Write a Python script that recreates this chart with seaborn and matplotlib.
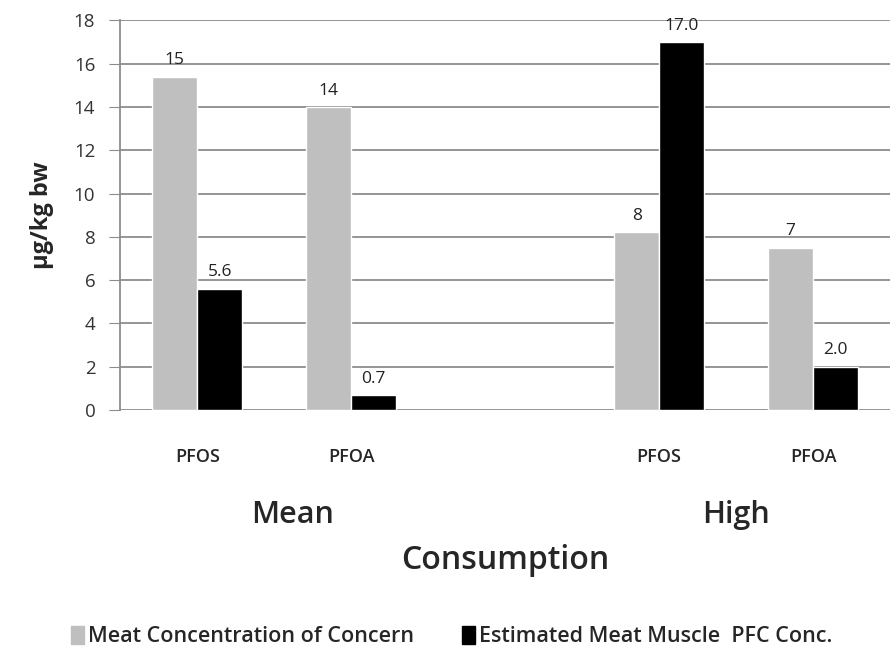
import pandas as pd
import matplotlib.pyplot as plt
import seaborn as sns

# values
slots = ['Mean PFOS', 'Mean PFOA', 'gap', 'High PFOS', 'High PFOA']
tick_labels = ['PFOS', 'PFOA', '', 'PFOS', 'PFOA']
series = ['Meat Concentration of Concern', 'Estimated Meat Muscle  PFC Conc.']
concern = [15.4, 14.0, 8.2, 7.5]
estimated = [5.6, 0.7, 17.0, 2.0]
concern_labels = ['15', '14', '8', '7']
estimated_labels = ['5.6', '0.7', '17.0', '2.0']
groups = ['Mean', 'High']

cats = [s for s in slots if s != 'gap']
df = pd.DataFrame({
    'slot': cats * 2,
    'series': [series[0]] * 4 + [series[1]] * 4,
    'value': concern + estimated,
})

sns.set_style('white')
plt.rcParams['font.family'] = ['Open Sans', 'DejaVu Sans']

fig = plt.figure(figsize=(8.91, 6.53), dpi=100)
ax = fig.add_axes([0.135, 0.372, 0.864, 0.597])

sns.barplot(data=df, x='slot', y='value', hue='series', order=slots,
            palette=['#BFBFBF', '#000000'], width=0.585, ax=ax, legend=False,
            saturation=1, errorbar=None)

for cont, labs in zip(ax.containers, [concern_labels, estimated_labels]):
    ax.bar_label(cont, labels=labs, padding=6, fontsize=12.5, color='#222222')

ax.set_ylim(0, 18)
ax.set_yticks(range(0, 19, 2))
ax.yaxis.grid(True, color='#8C8C8C', linewidth=1.3)
ax.set_axisbelow(True)
for s in ['top', 'right', 'bottom']:
    ax.spines[s].set_visible(False)
ax.spines['left'].set_color('#8C8C8C')
ax.spines['left'].set_linewidth(1.3)
ax.tick_params(axis='y', left=True, length=8, color='#8C8C8C', labelsize=13.5, pad=10, labelcolor='#333333')
ax.tick_params(axis='x', bottom=False, pad=24, labelsize=13)
ax.set_xticks(range(len(slots)))
ax.set_xticklabels(tick_labels, fontweight='semibold')
ax.set_xlabel('')
ax.set_ylabel('µg/kg bw', fontsize=17, fontweight='bold', labelpad=14)

# group and axis titles below the category labels
ax.text(0.62, -0.27, groups[0], transform=ax.get_xaxis_transform(), ha='center', va='center',
        fontsize=22, fontweight='semibold')
ax.text(3.5, -0.27, groups[1], transform=ax.get_xaxis_transform(), ha='center', va='center',
        fontsize=22, fontweight='semibold')
ax.text(2.0, -0.385, 'Consumption', transform=ax.get_xaxis_transform(), ha='center', va='center',
        fontsize=23, fontweight='semibold')

handles = [plt.Rectangle((0, 0), 1, 1, color=c) for c in ['#BFBFBF', '#000000']]
fig.legend(handles, series, loc='center', bbox_to_anchor=(0.507, 0.025), ncol=2, frameon=False,
           prop={'size': 15.5, 'weight': 'semibold'}, handlelength=0.6, handleheight=0.9,
           handletextpad=0.2, columnspacing=2.2)

fig.savefig('out.png', dpi=100)
